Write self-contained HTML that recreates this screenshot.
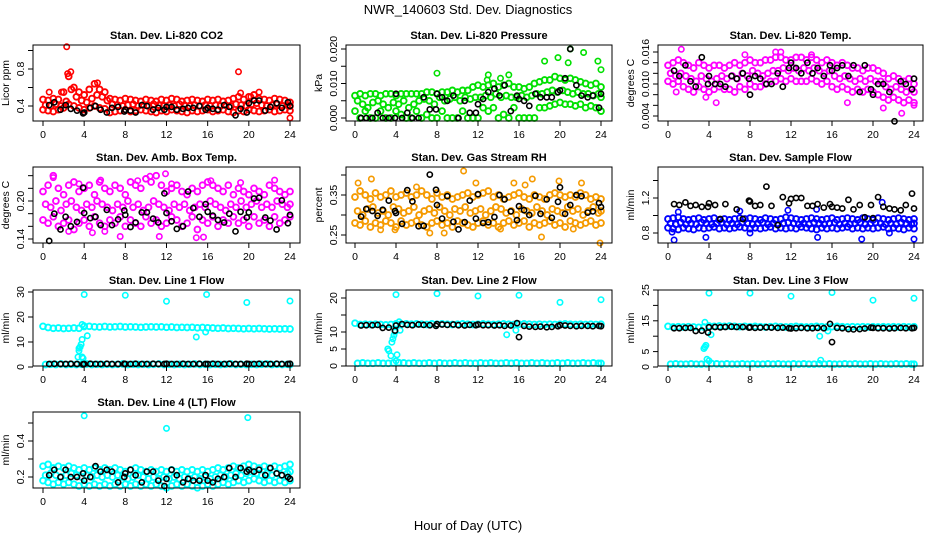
<!DOCTYPE html>
<html><head><meta charset="utf-8"><title>NWR_140603 Std. Dev. Diagnostics</title>
<style>
html,body{margin:0;padding:0;background:#fff;}
svg{display:block;font-family:"Liberation Sans",Arial,sans-serif;}
</style></head>
<body>
<svg id="chart" width="936" height="540" viewBox="0 0 936 540" xmlns="http://www.w3.org/2000/svg">
<text x="468" y="14" text-anchor="middle" font-size="13">NWR_140603  Std. Dev. Diagnostics</text>
<text x="468" y="530" text-anchor="middle" font-size="13">Hour of Day (UTC)</text>
</svg>
<script>
// Shared time grids (hours)
const T = [0,0.5,1,1.5,2,2.5,3,3.5,4,4.5,5,5.5,6,6.5,7,7.5,8,8.5,9,9.5,10,10.5,11,11.5,12,12.5,13,13.5,14,14.5,15,15.5,16,16.5,17,17.5,18,18.5,19,19.5,20,20.5,21,21.5,22,22.5,23,23.5,24];
const BT = [0.6,1.1,1.7,2.2,2.7,3.3,3.9,4.0,4.6,5.1,5.6,6.2,6.7,7.3,7.9,8.0,8.5,9.0,9.6,10.1,10.7,11.2,11.8,12.0,12.5,13.0,13.6,14.1,14.6,15.2,15.8,16.0,16.5,17.0,17.6,18.1,18.7,19.2,19.8,20.0,20.5,21.0,21.6,22.1,22.7,23.2,23.8,24.0];
const xTicks = [0,4,8,12,16,20,24];

// P1 CO2
const co2Hi = [0.47,0.46,0.48,0.47,0.55,0.72,0.60,0.55,0.52,0.58,0.64,0.58,0.55,0.48,0.47,0.46,0.48,0.47,0.46,0.45,0.47,0.46,0.45,0.47,0.46,0.48,0.47,0.45,0.46,0.47,0.46,0.45,0.47,0.46,0.47,0.45,0.46,0.48,0.50,0.47,0.50,0.52,0.48,0.47,0.46,0.48,0.47,0.46,0.44];
const co2Mid = [0.41,0.40,0.42,0.40,0.45,0.58,0.50,0.46,0.44,0.48,0.52,0.50,0.46,0.42,0.41,0.40,0.41,0.42,0.40,0.41,0.40,0.42,0.41,0.40,0.41,0.40,0.42,0.41,0.40,0.41,0.40,0.41,0.40,0.41,0.40,0.41,0.40,0.42,0.41,0.40,0.42,0.43,0.41,0.40,0.41,0.42,0.40,0.41,0.40];
const co2Lo = [0.36,0.35,0.34,0.36,0.38,0.42,0.40,0.38,0.36,0.38,0.40,0.38,0.37,0.33,0.34,0.35,0.36,0.34,0.35,0.36,0.35,0.34,0.33,0.35,0.34,0.36,0.35,0.34,0.33,0.35,0.34,0.35,0.36,0.34,0.35,0.36,0.34,0.33,0.35,0.34,0.36,0.35,0.34,0.35,0.36,0.34,0.35,0.36,0.35];
const co2OutT = [2.3,2.7,2.4,5.3,19.0,19.2,20.2,21.0,24.0,1.8,0.6];
const co2OutV = [1.04,0.77,0.75,0.65,0.77,0.54,0.50,0.55,0.27,0.55,0.55];
const co2Blk = [0.41,0.44,0.36,0.41,0.37,0.35,0.32,0.33,0.38,0.40,0.36,0.33,0.38,0.39,0.34,0.36,0.35,0.33,0.41,0.40,0.36,0.38,0.36,0.39,0.39,0.36,0.37,0.38,0.38,0.40,0.36,0.38,0.37,0.36,0.41,0.39,0.30,0.37,0.33,0.43,0.46,0.46,0.35,0.39,0.43,0.38,0.44,0.40];

// P2 Pressure
const prsHi = [0.0065,0.007,0.0065,0.007,0.007,0.0065,0.007,0.007,0.0065,0.007,0.007,0.007,0.007,0.007,0.0075,0.0075,0.007,0.0075,0.0075,0.008,0.0075,0.008,0.008,0.009,0.0095,0.009,0.0095,0.01,0.009,0.0095,0.01,0.009,0.009,0.0085,0.009,0.01,0.0105,0.011,0.011,0.012,0.0115,0.011,0.0115,0.011,0.0105,0.01,0.0095,0.01,0.009];
const prsMid = [0.005,0.004,0.003,0.0045,0.005,0.004,0.003,0.0045,0.004,0.005,0.003,0.004,0.005,0.0055,0.005,0.004,0.006,0.005,0.0055,0.006,0.005,0.006,0.0055,0.006,0.006,0.0065,0.006,0.007,0.006,0.0065,0.006,0.006,0.0065,0.006,0.0065,0.007,0.007,0.0075,0.008,0.0075,0.008,0.0075,0.007,0.0075,0.007,0.007,0.0065,0.007,0.006];
const prsLo = [0.002,0.0,0.002,0.0,0.0,0.002,0.0,0.0,0.002,0.001,0.0,0.0,0.002,0.0,0.001,0.0,0.0,0.002,0.0,0.0,0.0,0.002,0.0,0.0,0.0,0.003,0.002,0.003,0.0,0.001,0.0,0.003,0.0,0.0,0.0,0.0,0.003,0.003,0.0035,0.004,0.0045,0.004,0.004,0.0035,0.004,0.003,0.0035,0.003,0.002];
const prsOutT = [8.0,13.0,14.2,15.0,18.5,19.8,21.0,22.3,23.7,24.0,20.8,12.9];
const prsOutV = [0.013,0.0125,0.0115,0.0125,0.0165,0.0175,0.020,0.019,0.0165,0.014,0.016,0.011];
const prsBlk = [0.0,0.0,0.0,0.0015,0.0,0.0,0.0,0.007,0.0,0.0015,0.0,0.0,0.006,0.0025,0.0025,0.007,0.006,0.005,0.0065,0.0,0.005,0.0015,0.0015,0.004,0.0055,0.0075,0.0085,0.0065,0.0095,0.002,0.0065,0.0055,0.005,0.0035,0.007,0.006,0.006,0.006,0.0075,0.008,0.0115,0.020,0.0095,0.0065,0.006,0.0065,0.003,0.007];

// P3 Li-820 Temp
const tmpHi = [0.0135,0.014,0.0145,0.014,0.0135,0.013,0.014,0.0135,0.013,0.0135,0.0135,0.013,0.0135,0.014,0.0135,0.014,0.0145,0.014,0.014,0.0145,0.0145,0.015,0.015,0.0145,0.0145,0.015,0.015,0.0145,0.015,0.0145,0.014,0.0145,0.014,0.0135,0.014,0.0135,0.013,0.013,0.0125,0.013,0.013,0.0125,0.012,0.011,0.0115,0.011,0.0105,0.011,0.010];
const tmpMid = [0.012,0.0115,0.012,0.0115,0.011,0.0105,0.0115,0.011,0.0105,0.011,0.0115,0.011,0.0115,0.011,0.012,0.0115,0.0125,0.012,0.0115,0.012,0.0125,0.0125,0.013,0.0125,0.013,0.0125,0.013,0.0125,0.013,0.0125,0.012,0.0125,0.0115,0.011,0.0115,0.011,0.0105,0.011,0.0105,0.011,0.0105,0.0105,0.0095,0.009,0.0095,0.009,0.0085,0.009,0.0085];
const tmpLo = [0.0105,0.010,0.0105,0.0095,0.009,0.0085,0.0095,0.009,0.0085,0.009,0.0095,0.009,0.009,0.0085,0.0095,0.009,0.010,0.0095,0.0095,0.010,0.0105,0.0105,0.011,0.0105,0.011,0.0105,0.0105,0.0105,0.011,0.0105,0.010,0.0105,0.0095,0.009,0.0095,0.009,0.0085,0.009,0.0085,0.009,0.0085,0.008,0.0075,0.007,0.0075,0.007,0.0065,0.007,0.0065];
const tmpOutT = [1.3,0.8,3.7,4.7,7.5,10.5,11.0,14.0,17.5,21.0,22.8,24.0];
const tmpOutV = [0.0165,0.0085,0.0075,0.0065,0.0155,0.016,0.016,0.0155,0.0065,0.0055,0.0045,0.006];
const tmpBlk = [0.0125,0.0115,0.0135,0.0105,0.0095,0.015,0.0100,0.0115,0.0100,0.0100,0.0095,0.0115,0.0110,0.0120,0.0110,0.0080,0.0115,0.0110,0.0100,0.0100,0.0120,0.0095,0.0130,0.0140,0.0130,0.0120,0.0140,0.0120,0.0130,0.0115,0.0135,0.0125,0.0130,0.0135,0.0115,0.0135,0.0085,0.0135,0.0090,0.0080,0.0100,0.0100,0.0085,0.0030,0.0105,0.0100,0.0090,0.0110];

// P4 Amb Box Temp
const ambHi = [0.215,0.225,0.24,0.22,0.21,0.225,0.23,0.215,0.22,0.225,0.21,0.23,0.22,0.215,0.225,0.22,0.21,0.23,0.225,0.22,0.235,0.23,0.24,0.225,0.215,0.22,0.225,0.215,0.21,0.22,0.215,0.225,0.23,0.225,0.22,0.215,0.225,0.21,0.22,0.215,0.21,0.22,0.215,0.21,0.225,0.22,0.215,0.21,0.215];
const ambMid = [0.195,0.19,0.2,0.185,0.195,0.2,0.19,0.185,0.195,0.19,0.2,0.195,0.19,0.185,0.195,0.19,0.2,0.19,0.195,0.185,0.19,0.2,0.195,0.19,0.185,0.195,0.19,0.195,0.185,0.19,0.195,0.19,0.2,0.195,0.19,0.185,0.195,0.19,0.2,0.19,0.195,0.2,0.19,0.195,0.19,0.2,0.195,0.19,0.195];
const ambLo = [0.17,0.165,0.175,0.16,0.165,0.17,0.155,0.165,0.17,0.16,0.175,0.165,0.16,0.17,0.165,0.175,0.16,0.17,0.165,0.16,0.175,0.165,0.17,0.16,0.165,0.175,0.17,0.16,0.165,0.175,0.155,0.17,0.165,0.175,0.16,0.17,0.165,0.175,0.165,0.17,0.16,0.175,0.165,0.17,0.16,0.175,0.165,0.17,0.175];
const ambOutT = [1.0,3.5,4.8,5.6,7.5,9.2,10.4,11.3,11.9,12.5,14.9,15.6,16.3,19.2,22.5,2.5,6.0];
const ambOutV = [0.237,0.227,0.150,0.233,0.144,0.232,0.239,0.144,0.243,0.227,0.142,0.143,0.232,0.229,0.233,0.152,0.152];
const ambBlk = [0.137,0.18,0.155,0.175,0.160,0.167,0.221,0.181,0.173,0.175,0.162,0.186,0.162,0.171,0.185,0.178,0.159,0.166,0.182,0.182,0.172,0.166,0.212,0.181,0.168,0.156,0.16,0.215,0.189,0.175,0.195,0.183,0.177,0.170,0.166,0.18,0.152,0.183,0.174,0.182,0.204,0.205,0.174,0.169,0.155,0.201,0.165,0.178];

// P5 Gas Stream RH
const rhHi = [0.345,0.36,0.35,0.34,0.355,0.345,0.35,0.36,0.345,0.35,0.355,0.345,0.35,0.36,0.35,0.34,0.355,0.345,0.35,0.34,0.345,0.35,0.355,0.345,0.35,0.355,0.36,0.345,0.35,0.34,0.345,0.35,0.355,0.345,0.34,0.35,0.345,0.34,0.35,0.355,0.35,0.345,0.35,0.345,0.355,0.35,0.34,0.345,0.34];
const rhMid = [0.31,0.3,0.315,0.32,0.305,0.31,0.3,0.32,0.315,0.305,0.31,0.32,0.3,0.31,0.315,0.305,0.32,0.31,0.3,0.315,0.31,0.32,0.305,0.31,0.315,0.3,0.31,0.32,0.315,0.305,0.31,0.3,0.315,0.31,0.305,0.32,0.31,0.3,0.315,0.31,0.305,0.32,0.31,0.315,0.3,0.31,0.32,0.305,0.31];
const rhLo = [0.28,0.275,0.285,0.27,0.28,0.275,0.285,0.28,0.27,0.285,0.275,0.28,0.285,0.275,0.27,0.28,0.285,0.275,0.28,0.27,0.285,0.28,0.275,0.27,0.28,0.285,0.275,0.28,0.27,0.28,0.285,0.275,0.28,0.285,0.27,0.28,0.275,0.28,0.285,0.275,0.28,0.27,0.285,0.28,0.275,0.28,0.285,0.275,0.28];
const rhOutT = [0.3,1.6,2.5,3.9,6.0,7.3,8.7,10.6,11.8,14.2,15.5,16.6,17.3,18.2,19.9,22.1,23.9,21.3];
const rhOutV = [0.38,0.39,0.263,0.263,0.37,0.255,0.255,0.41,0.38,0.265,0.38,0.375,0.39,0.245,0.385,0.38,0.23,0.265];
const rhBlk = [0.296,0.315,0.31,0.298,0.313,0.336,0.31,0.305,0.278,0.362,0.334,0.272,0.273,0.401,0.363,0.325,0.291,0.347,0.283,0.264,0.282,0.336,0.291,0.352,0.28,0.282,0.295,0.35,0.339,0.309,0.287,0.322,0.312,0.3,0.348,0.303,0.339,0.293,0.333,0.369,0.303,0.325,0.35,0.347,0.306,0.309,0.33,0.32];

// P6 Sample Flow
const sfHi = [0.96,0.97,0.98,0.96,0.95,0.96,0.97,0.95,0.96,0.97,0.95,0.96,0.95,0.96,0.97,0.96,0.97,0.96,0.95,0.97,0.96,0.95,0.96,0.98,0.97,0.96,0.95,0.96,0.97,0.96,0.95,0.96,0.97,0.95,0.96,0.97,0.96,0.95,0.97,0.96,0.95,0.97,0.96,0.95,0.96,0.97,0.96,0.95,0.96];
const sfMid = [0.91,0.9,0.92,0.9,0.91,0.9,0.92,0.91,0.9,0.91,0.92,0.9,0.91,0.9,0.92,0.91,0.9,0.91,0.92,0.9,0.91,0.9,0.91,0.92,0.91,0.9,0.91,0.9,0.92,0.91,0.9,0.91,0.92,0.9,0.91,0.9,0.91,0.92,0.9,0.91,0.92,0.91,0.9,0.91,0.9,0.92,0.91,0.9,0.91];
const sfLo = [0.86,0.85,0.84,0.86,0.85,0.84,0.86,0.85,0.86,0.87,0.85,0.86,0.85,0.86,0.87,0.86,0.85,0.86,0.85,0.86,0.87,0.85,0.86,0.85,0.86,0.85,0.87,0.86,0.85,0.84,0.86,0.85,0.86,0.85,0.86,0.87,0.85,0.86,0.85,0.86,0.85,0.86,0.87,0.85,0.86,0.85,0.84,0.86,0.85];
const sfOutT = [0.6,0.4,3.7,7.0,8.0,11.7,14.6,14.5,18.9,20.9,21.6,24.0,1.0];
const sfOutV = [0.72,0.81,0.75,1.05,0.8,1.06,0.75,1.07,0.73,1.15,0.8,0.73,1.04];
const sfBlk = [1.13,1.12,1.15,1.11,1.12,1.10,1.10,1.14,1.12,0.96,1.13,1.62,1.07,0.96,1.17,1.16,1.11,1.12,1.33,1.11,0.89,1.21,1.14,1.19,1.20,1.20,1.11,1.11,1.13,1.09,1.13,1.10,1.09,1.08,1.18,1.07,1.12,0.98,1.12,0.97,1.21,1.10,1.08,1.07,1.06,1.12,1.25,1.08];

// P7 Line 1 Flow
const l1Hi = [16.3,15.8,15.5,15.6,15.4,15.5,15.6,15.5,16.2,16.3,16.1,16.0,16.2,16.0,16.1,16.2,16.0,16.1,16.0,15.9,16.0,16.1,16.0,16.1,15.9,16.0,15.8,15.9,15.8,15.9,15.7,15.8,15.7,15.6,15.5,15.6,15.4,15.5,15.4,15.3,15.4,15.3,15.4,15.3,15.2,15.3,15.2,15.3,15.2];
const l1Lo = [1.0,1.1,1.0,1.2,1.0,1.1,1.0,1.1,1.2,1.0,1.1,1.0,1.1,1.0,1.1,1.2,1.0,1.1,1.0,1.1,1.0,1.1,1.2,1.0,1.1,1.0,1.1,1.0,1.1,1.2,1.0,1.1,1.0,1.1,1.0,1.1,1.2,1.0,1.1,1.0,1.1,1.0,1.1,1.2,1.0,1.1,1.0,1.1,1.0];
const l1OutT = [3.5,3.6,3.7,3.8,3.4,3.5,3.9,4.0,3.8,4.3,4.0,8.0,12.0,15.9,19.8,24.0,14.9,15.8,3.8];
const l1OutV = [6.5,8,9,11,4,7.5,3.5,16.5,4,12.5,29,28.7,26.3,29,25.8,26.4,12,14,17];
const l1Blk = [1.2,1.3,1.2,1.2,1.3,1.2,1.1,1.2,1.3,1.2,1.2,1.3,1.2,1.2,1.3,1.2,1.2,1.3,1.2,1.2,1.3,1.2,1.2,1.3,1.2,1.2,1.3,1.2,1.2,1.3,1.2,1.2,1.3,1.2,1.2,1.3,1.2,1.2,1.3,1.2,1.2,1.3,1.2,1.2,1.3,1.2,1.2,1.3];

// P8 Line 2 Flow
const l2Hi = [12.6,12.2,12.3,12.2,12.3,12.2,12.1,12.2,12.4,12.3,12.4,12.3,12.4,12.3,12.2,12.4,12.3,12.4,12.3,12.2,12.3,12.4,12.3,12.2,12.3,12.4,12.3,12.2,12.3,12.4,12.3,12.2,12.3,12.4,12.3,12.2,12.3,12.2,12.3,12.2,12.3,12.4,12.3,12.2,12.3,12.2,12.3,12.2,12.3];
const l2Lo = [0.8,0.9,0.8,0.8,0.9,0.8,0.8,0.9,1.0,0.9,0.8,0.9,0.8,0.8,0.9,0.8,0.9,0.8,0.8,0.9,0.8,0.9,0.8,0.8,0.9,0.8,0.9,0.8,0.8,0.9,0.8,0.9,0.8,0.8,0.9,0.8,0.9,0.8,0.8,0.9,0.8,0.9,0.8,0.8,0.9,0.8,0.9,0.8,0.8];
const l2OutT = [3.2,3.3,3.5,3.6,3.7,3.8,3.9,4.0,4.1,4.3,4.4,4.0,8.0,12.0,16.0,20.0,24.0,14.8,15.7];
const l2OutV = [5,4.5,3,7,8,9,10,21,3.3,13,10.5,1.5,21.3,20.6,20.8,18.7,19.5,9.2,10.5];
const l2Blk = [11.9,12.0,12.0,12.1,11.2,11.3,10.4,11.9,12.3,12.1,12.0,12.2,12.1,12.0,11.8,12.3,12.2,12.1,12.2,12.0,11.9,12.1,12.0,12.2,12.0,12.0,11.9,12.0,11.8,11.9,12.6,8.5,11.8,11.6,11.5,11.6,11.4,11.5,11.7,12.0,11.9,11.8,11.7,11.8,11.8,11.7,11.8,11.7];

// P9 Line 3 Flow
const l3Hi = [13.2,13.0,13.1,13.0,13.1,13.0,12.9,13.0,13.3,13.2,13.3,13.2,13.3,13.2,13.1,13.2,13.1,13.2,13.1,13.0,13.1,13.2,13.1,13.0,13.1,13.2,13.1,13.0,13.1,13.2,13.1,13.0,13.1,13.2,13.1,13.0,13.1,13.0,13.1,13.0,13.1,13.0,13.1,13.0,13.1,13.0,13.1,13.0,13.1];
const l3Lo = [0.9,1.0,0.9,0.9,1.0,0.9,0.9,1.0,1.1,1.0,0.9,1.0,0.9,0.9,1.0,0.9,1.0,0.9,0.9,1.0,0.9,1.0,0.9,0.9,1.0,0.9,1.0,0.9,0.9,1.0,0.9,1.0,0.9,0.9,1.0,0.9,1.0,0.9,0.9,1.0,0.9,1.0,0.9,0.9,1.0,0.9,1.0,0.9,0.9];
const l3OutT = [3.5,3.6,3.7,3.8,3.6,4.0,4.2,4.0,8.0,12.0,16.0,20.0,24.0,14.8,15.6,14.9];
const l3OutV = [6,6.5,7,2.5,14.5,24,10.5,2,24,23,24.2,21.7,22.3,10,11.7,2.2];
const l3Blk = [12.6,12.6,12.7,12.7,11.7,11.8,11.2,12.9,13.0,12.9,13.0,13.1,13.0,13.0,12.8,12.9,12.7,12.8,12.9,12.8,12.7,12.8,12.6,12.5,12.6,12.7,12.6,12.6,12.7,12.6,14.0,8.1,12.7,12.6,12.3,12.2,12.3,12.5,12.8,12.7,12.6,12.6,12.5,12.6,12.7,12.6,12.6,12.7];

// P10 Line 4 (LT) Flow
const l4Hi = [0.26,0.27,0.25,0.26,0.25,0.26,0.25,0.24,0.25,0.24,0.25,0.24,0.25,0.24,0.25,0.24,0.23,0.24,0.25,0.24,0.23,0.24,0.23,0.24,0.23,0.24,0.23,0.24,0.23,0.24,0.23,0.24,0.23,0.24,0.25,0.24,0.25,0.26,0.25,0.26,0.27,0.26,0.25,0.26,0.25,0.26,0.25,0.26,0.27];
const l4Mid = [0.21,0.22,0.21,0.20,0.21,0.22,0.21,0.20,0.21,0.20,0.21,0.20,0.21,0.20,0.21,0.20,0.19,0.20,0.21,0.20,0.19,0.20,0.19,0.20,0.19,0.20,0.19,0.20,0.19,0.20,0.19,0.20,0.19,0.20,0.21,0.20,0.21,0.22,0.21,0.22,0.23,0.22,0.21,0.22,0.21,0.22,0.21,0.22,0.23];
const l4Lo = [0.18,0.17,0.16,0.17,0.16,0.17,0.16,0.15,0.16,0.15,0.16,0.15,0.16,0.15,0.16,0.15,0.16,0.15,0.16,0.15,0.16,0.15,0.16,0.15,0.14,0.15,0.16,0.15,0.16,0.15,0.14,0.15,0.16,0.15,0.16,0.17,0.16,0.17,0.18,0.17,0.18,0.19,0.18,0.17,0.18,0.17,0.18,0.17,0.18];
const l4OutT = [4.0,12.0,19.9];
const l4OutV = [0.54,0.47,0.53];
const l4Blk = [0.21,0.24,0.20,0.24,0.20,0.20,0.22,0.18,0.20,0.26,0.23,0.24,0.23,0.17,0.20,0.22,0.24,0.21,0.17,0.23,0.23,0.18,0.15,0.19,0.24,0.21,0.17,0.19,0.18,0.18,0.21,0.18,0.17,0.19,0.20,0.25,0.20,0.25,0.23,0.24,0.23,0.24,0.21,0.25,0.22,0.21,0.20,0.19];

const NS = "http://www.w3.org/2000/svg";
const svg = document.getElementById('chart');
const COLS = [{bx:33,bw:267,h0:43,h24:290},{bx:346,bw:266,h0:355,h24:601},{bx:658,bw:265,h0:668,h24:914}];
const ROWS = [45,167,290,412];
const BH = 76;

const panels = [
 {key:'co2',title:'Stan. Dev. Li-820 CO2',ylab:'Licor ppm',col:'#ff0000',r:0,c:0,va:0.4,pa:106,vb:0.8,pb:69,
  ticks:[0.4,0.6,0.8,1.0],labs:['0.4','','0.8',''],layers:[co2Hi,co2Mid,co2Lo],outT:co2OutT,outV:co2OutV,blk:co2Blk},
 {key:'pressure',title:'Stan. Dev. Li-820 Pressure',ylab:'kPa',col:'#00e000',r:0,c:1,va:0,pa:118,vb:0.02,pb:49,
  ticks:[0,0.005,0.01,0.015,0.02],labs:['0.000','','0.010','','0.020'],layers:[prsHi,prsMid,prsLo],outT:prsOutT,outV:prsOutV,blk:prsBlk},
 {key:'li820-temp',title:'Stan. Dev. Li-820 Temp.',ylab:'degrees C',col:'#ff00ff',r:0,c:2,va:0.004,pa:116,vb:0.016,pb:52,
  ticks:[0.004,0.006,0.008,0.010,0.012,0.014,0.016],labs:['0.004','','','0.010','','','0.016'],layers:[tmpHi,tmpMid,tmpLo],outT:tmpOutT,outV:tmpOutV,blk:tmpBlk},
 {key:'amb-box-temp',title:'Stan. Dev. Amb. Box Temp.',ylab:'degrees C',col:'#ff00ff',r:1,c:0,va:0.14,pa:239,vb:0.20,pb:201,
  ticks:[0.14,0.16,0.18,0.20,0.22,0.24],labs:['0.14','','','0.20','',''],layers:[ambHi,ambMid,ambLo],outT:ambOutT,outV:ambOutV,blk:ambBlk},
 {key:'gas-stream-rh',title:'Stan. Dev. Gas Stream RH',ylab:'percent',col:'#f59a00',r:1,c:1,va:0.25,pa:235,vb:0.35,pb:195,
  ticks:[0.25,0.30,0.35,0.40],labs:['0.25','','0.35',''],layers:[rhHi,rhMid,rhLo],outT:rhOutT,outV:rhOutV,blk:rhBlk},
 {key:'sample-flow',title:'Stan. Dev. Sample Flow',ylab:'ml/min',col:'#0000ff',r:1,c:2,va:0.8,pa:233,vb:1.2,pb:198,
  ticks:[0.8,1.0,1.2,1.4],labs:['0.8','','1.2',''],layers:[sfHi,sfMid,sfLo],outT:sfOutT,outV:sfOutV,blk:sfBlk},
 {key:'line1-flow',title:'Stan. Dev. Line 1 Flow',ylab:'ml/min',col:'#00ffff',r:2,c:0,va:0,pa:367,vb:30,pb:292,
  ticks:[0,10,20,30],labs:['0','10','20','30'],layers:[l1Hi,l1Lo],outT:l1OutT,outV:l1OutV,blk:l1Blk},
 {key:'line2-flow',title:'Stan. Dev. Line 2 Flow',ylab:'ml/min',col:'#00ffff',r:2,c:1,va:0,pa:366,vb:20,pb:298,
  ticks:[0,5,10,15,20],labs:['0','5','10','','20'],layers:[l2Hi,l2Lo],outT:l2OutT,outV:l2OutV,blk:l2Blk},
 {key:'line3-flow',title:'Stan. Dev. Line 3 Flow',ylab:'ml/min',col:'#00ffff',r:2,c:2,va:0,pa:367,vb:25,pb:290,
  ticks:[0,5,10,15,20,25],labs:['0','5','','15','','25'],layers:[l3Hi,l3Lo],outT:l3OutT,outV:l3OutV,blk:l3Blk},
 {key:'line4-flow',title:'Stan. Dev. Line 4 (LT) Flow',ylab:'ml/min',col:'#00ffff',r:3,c:0,va:0.2,pa:477,vb:0.4,pb:441,
  ticks:[0.2,0.3,0.4,0.5],labs:['0.2','','0.4',''],layers:[l4Hi,l4Mid,l4Lo],outT:l4OutT,outV:l4OutV,blk:l4Blk}
];

function mk(tag, attrs, parent){
  const e = document.createElementNS(NS, tag);
  for (const k in attrs) e.setAttribute(k, attrs[k]);
  (parent||svg).appendChild(e);
  return e;
}

panels.forEach(p => {
  const C = COLS[p.c], top = ROWS[p.r], bot = top + BH;
  const xS = h => C.h0 + (C.h24 - C.h0) * h / 24;
  const yS = v => p.pa + (v - p.va) * (p.pb - p.pa) / (p.vb - p.va);
  const g = mk('g', {});
  
  

  const title = mk('text', {x: C.bx + C.bw/2, y: top - 6, 'text-anchor':'middle', 'font-size':'11', 'font-weight':'bold'}, g);
  title.textContent = p.title;
  
  

  const pts = mk('g', {fill:'none'}, g);
  
  
  const dot = (h, v, col, nm, r, sw) => {
    const cy = yS(v);
    if (cy < top - 2 || cy > bot + 2) return;
    const c = mk('circle', {cx: xS(h).toFixed(1), cy: cy.toFixed(1), r: r, stroke: col, 'stroke-width': sw}, pts);
    
    
  };
  // colored layers; alternate layers offset by a quarter hour to interleave samples
  p.layers.forEach((arr, li) => arr.forEach((v, i) => {
    if (i < T.length) {
      const h = Math.min(24, T[i] + (li % 2 ? 0.25 : 0));
      dot(h, v, p.col, p.key + '-point', 2.9, 1.9);
    }
  }));
  p.outT.forEach((h, i) => dot(h, p.outV[i], p.col, p.key + '-outlier', 2.7, 1.6));
  p.blk.forEach((v, i) => { if (i < BT.length) dot(BT[i], v, '#000', p.key + '-hourly-point', 2.6, 1.6); });

  const box = mk('rect', {x: C.bx, y: top, width: C.bw, height: BH, fill:'none', stroke:'#000', 'stroke-width':'1'}, g);
  
  

  xTicks.forEach(h => {
    const x = xS(h);
    mk('line', {x1:x, x2:x, y1:bot, y2:bot+5, stroke:'#000'}, g);
    const t = mk('text', {x:x, y:bot+17, 'text-anchor':'middle', 'font-size':'10.5'}, g);
    t.textContent = h;
    
    
  });
  p.ticks.forEach((v, i) => {
    const y = yS(v);
    mk('line', {x1:C.bx-5, x2:C.bx, y1:y, y2:y, stroke:'#000'}, g);
    if (p.labs[i]) {
      const t = mk('text', {x:0, y:0, 'text-anchor':'middle', 'font-size':'10.5', transform:'translate(' + (C.bx-9) + ',' + y + ') rotate(-90)'}, g);
      t.textContent = p.labs[i];
      
      
    }
  });
  const yl = mk('text', {x:0, y:0, 'text-anchor':'middle', 'font-size':'10.5', transform:'translate(' + (C.bx-24) + ',' + (top + BH/2) + ') rotate(-90)'}, g);
  yl.textContent = p.ylab;
  
  
});
</script>
</body></html>
